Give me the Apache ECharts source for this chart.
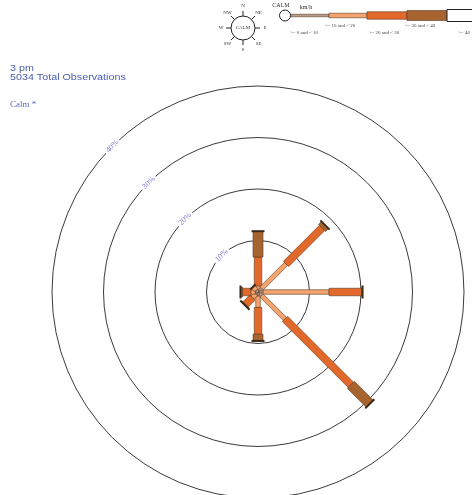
<!DOCTYPE html>
<html>
<head>
<meta charset="utf-8">
<script src="https://cdn.jsdelivr.net/npm/echarts@6/dist/echarts.min.js"></script>
<style>
  html, body { margin: 0; padding: 0; background: #fff; }
  #main { width: 472px; height: 495px; }
</style>
</head>
<body>
<div id="main"></div>
<script>
// wind directions in compass degrees (0 = north, clockwise)
const directions = ["N", "NE", "E", "SE", "S", "SW", "W", "NW"];
const directionAngles = [0, 45, 90, 135, 180, 225, 270, 315];
// cumulative percentage at the end of each speed class, per direction
const upTo10 = [0.4, 1.0, 1.0, 1.0, 0.8, 0.6, 0.5, 0.5];
const upTo20 = [1.2, 7.7, 13.8, 7.4, 3.0, 1.5, 1.4, 1.4];
const upTo30 = [6.8, 17.6, 20.2, 25.5, 8.2, 3.4, 3.0, 1.4];
const upTo40 = [11.8, 18.4, 20.3, 30.7, 9.5, 3.6, 3.4, 1.4];
const over40 = [11.8, 18.4, 20.3, 30.7, 9.5, 3.6, 3.4, 1.4];
const ringTicks = [10, 20, 30, 40];
const classLabels = [">= 0 and < 10", ">= 10 and < 20", ">= 20 and < 30", ">= 30 and < 40", ">= 40"];

// look of the speed classes
const classColors = ["#b89c8c", "#f4a46c", "#e2692a", "#a8642e", "#ffffff"];
const classWidths = [2.5, 4.5, 7.5, 10, 12];
const edge = "#5b3b22";

const armData = directions.map((d, i) => [directionAngles[i], upTo10[i], upTo20[i], upTo30[i], upTo40[i], over40[i]]);

const myChart = echarts.init(document.getElementById("main"));

const renderArm = (params, api) => {
  const ang = api.value(0);
  const cum = [0, api.value(1), api.value(2), api.value(3), api.value(4), api.value(5)];
  const c0 = api.coord([0, ang]);
  const far = api.coord([40, ang]);
  let ux = far[0] - c0[0], uy = far[1] - c0[1];
  const len = Math.sqrt(ux * ux + uy * uy);
  ux /= len; uy /= len;
  const px = -uy, py = ux; // perpendicular
  const children = [];
  let lastW = 0;
  for (let k = 0; k < 5; k++) {
    if (cum[k + 1] <= cum[k]) continue;
    const p1 = api.coord([cum[k], ang]);
    const p2 = api.coord([cum[k + 1], ang]);
    const h = classWidths[k] / 2;
    lastW = classWidths[k];
    children.push({
      type: "polygon",
      shape: {
        points: [
          [p1[0] + px * h, p1[1] + py * h],
          [p2[0] + px * h, p2[1] + py * h],
          [p2[0] - px * h, p2[1] - py * h],
          [p1[0] - px * h, p1[1] - py * h],
        ],
      },
      style: { fill: classColors[k], stroke: edge, lineWidth: 0.6 },
    });
  }
  // end cap
  const pe = api.coord([cum[5], ang]);
  const hc = lastW / 2 + 1.5;
  children.push({
    type: "line",
    shape: { x1: pe[0] + px * hc, y1: pe[1] + py * hc, x2: pe[0] - px * hc, y2: pe[1] - py * hc },
    style: { stroke: "#3a2818", lineWidth: 2 },
  });
  if (params.dataIndex === 0) {
    children.push({ type: "circle", shape: { cx: c0[0], cy: c0[1], r: 2 }, style: { fill: "#222" } });
  }
  return { type: "group", children };
};

const renderRingLabel = (params, api) => {
  const p = api.coord([api.value(0), 315]);
  return {
    type: "text",
    x: p[0],
    y: p[1],
    rotation: Math.PI / 4,
    style: {
      text: api.value(0) + "%",
      fill: "#7c7cd2",
      font: "8px 'Liberation Serif', serif",
      align: "center",
      verticalAlign: "middle",
      backgroundColor: "#fff",
      padding: [0, 2],
    },
  };
};

// legend graphics (top)
const compassCx = 243, compassCy = 28;
const compass = [
  { type: "circle", shape: { cx: compassCx, cy: compassCy, r: 12 }, style: { fill: "#fff", stroke: "#222", lineWidth: 1 } },
  { type: "text", x: compassCx, y: compassCy, style: { text: "CALM", font: "5px 'Liberation Serif', serif", fill: "#333", align: "center", verticalAlign: "middle" } },
];
directions.forEach((d, i) => {
  const a = (directionAngles[i] * Math.PI) / 180;
  const sx = Math.sin(a), sy = -Math.cos(a);
  compass.push({
    type: "line",
    shape: { x1: compassCx + sx * 12, y1: compassCy + sy * 12, x2: compassCx + sx * 17, y2: compassCy + sy * 17 },
    style: { stroke: "#222", lineWidth: 1 },
  });
  compass.push({
    type: "text",
    x: compassCx + sx * 22,
    y: compassCy + sy * 22,
    style: { text: d, font: "5px 'Liberation Serif', serif", fill: "#333", align: "center", verticalAlign: "middle" },
  });
});

const barX = [291, 329, 367, 407, 447, 490];
const barY = 15.5;
const labelX = [304, 340, 384, 420, 458];
const labelY = [33, 26, 33, 26, 33];
const keyBar = [
  { type: "text", x: 281, y: 5, style: { text: "CALM", font: "6px 'Liberation Serif', serif", fill: "#333", align: "center", verticalAlign: "middle" } },
  { type: "text", x: 306, y: 7, style: { text: "km/h", font: "6px 'Liberation Serif', serif", fill: "#333", align: "center", verticalAlign: "middle" } },
];
for (let k = 0; k < 5; k++) {
  const h = classWidths[k];
  keyBar.push({
    type: "rect",
    shape: { x: barX[k], y: barY - h / 2, width: barX[k + 1] - barX[k], height: h },
    style: { fill: classColors[k], stroke: k === 4 ? "#222" : edge, lineWidth: k === 4 ? 1 : 0.6 },
  });
  keyBar.push({
    type: "text",
    x: labelX[k],
    y: labelY[k],
    style: { text: classLabels[k], font: "5px 'Liberation Serif', serif", fill: "#444", align: k === 4 ? "left" : "center", verticalAlign: "middle" },
  });
}
keyBar.push({ type: "circle", shape: { cx: 285, cy: barY, r: 5.5 }, style: { fill: "#fff", stroke: "#222", lineWidth: 1 } });

const titleFont = "9.5px 'Liberation Sans', Arial, sans-serif";
const titles = [
  { type: "text", x: 10, y: 68.5, scaleX: 1.13, style: { text: "3 pm", font: titleFont, fill: "#4b5cb0", verticalAlign: "middle" } },
  { type: "text", x: 10, y: 77, scaleX: 1.13, style: { text: "5034 Total Observations", font: titleFont, fill: "#4b5cb0", verticalAlign: "middle" } },
  { type: "text", x: 10, y: 105, style: { text: "Calm *", font: "9px 'Liberation Serif', serif", fill: "#5a6ab8", verticalAlign: "middle" } },
];

myChart.setOption({
  animation: false,
  backgroundColor: "#fff",
  polar: { center: [258, 292], radius: 206 },
  angleAxis: {
    type: "value",
    min: 0,
    max: 360,
    startAngle: 90,
    clockwise: true,
    axisLine: { show: false },
    axisTick: { show: false },
    axisLabel: { show: false },
    splitLine: { show: false },
  },
  radiusAxis: {
    type: "value",
    min: 0,
    max: 40,
    interval: 10,
    axisLine: { show: false },
    axisTick: { show: false },
    axisLabel: { show: false },
    splitLine: { show: true, lineStyle: { color: "#3a3a3a", width: 1 } },
  },
  graphic: [...compass, ...keyBar, ...titles],
  series: [
    {
      type: "custom",
      coordinateSystem: "polar",
      data: ringTicks.map((t) => [t]),
      renderItem: renderRingLabel,
      z: 3,
    },
    {
      type: "custom",
      coordinateSystem: "polar",
      data: armData,
      renderItem: renderArm,
      z: 4,
    },
  ],
});
</script>
</body>
</html>
